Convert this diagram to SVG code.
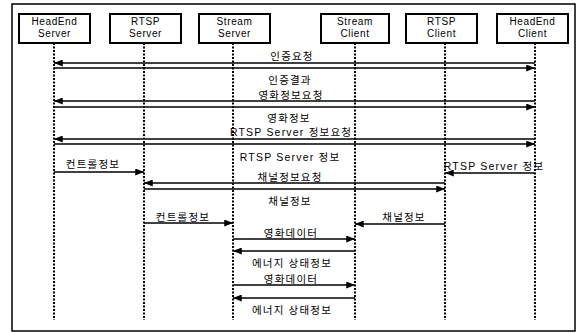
<svg xmlns="http://www.w3.org/2000/svg" width="581" height="333" viewBox="0 0 581 333">
<defs>
<marker id="ah" viewBox="0 0 10 8" refX="10" refY="4" markerWidth="9" markerHeight="7" orient="auto" markerUnits="userSpaceOnUse"><path d="M0,0 L10,4 L0,8 z" fill="#000"/></marker>
<style>
.box{fill:#fff;stroke:#000;stroke-width:2}
.bt{font-family:"Liberation Sans",Arial,sans-serif;font-size:10px;text-anchor:middle;fill:#000;letter-spacing:0.6px}
.life{stroke:#000;stroke-width:2;stroke-dasharray:2 1.5;fill:none}
.msg{stroke:#000;stroke-width:1.6;fill:none;marker-end:url(#ah)}
.lb{font-family:"Liberation Sans","Noto Sans CJK KR",sans-serif;font-size:10.5px;text-anchor:middle;fill:#000;letter-spacing:1.2px}
</style>
</defs>
<rect x="0" y="0" width="581" height="333" fill="#fff"/>
<rect x="12" y="4" width="563" height="327" fill="none" stroke="#000" stroke-width="1.5"/>
<g id="lifelines">
<line class="life" x1="54" y1="43" x2="54" y2="320"/>
<line class="life" x1="144" y1="43" x2="144" y2="320"/>
<line class="life" x1="233" y1="43" x2="233" y2="320"/>
<line class="life" x1="355" y1="43" x2="355" y2="320"/>
<line class="life" x1="445" y1="43" x2="445" y2="320"/>
<line class="life" x1="535" y1="43" x2="535" y2="320"/>
</g>
<g id="n-headend-server"><rect class="box" x="19" y="14" width="71" height="29"/><text class="bt" x="54.5" y="25">HeadEnd</text><text class="bt" x="54.5" y="37">Server</text></g>
<g id="n-rtsp-server"><rect class="box" x="110" y="14" width="71" height="29"/><text class="bt" x="145.5" y="25">RTSP</text><text class="bt" x="145.5" y="37">Server</text></g>
<g id="n-stream-server"><rect class="box" x="199" y="14" width="71" height="29"/><text class="bt" x="234.5" y="25">Stream</text><text class="bt" x="234.5" y="37">Server</text></g>
<g id="n-stream-client"><rect class="box" x="321" y="14" width="68" height="29"/><text class="bt" x="355" y="25">Stream</text><text class="bt" x="355" y="37">Client</text></g>
<g id="n-rtsp-client"><rect class="box" x="406" y="14" width="71" height="29"/><text class="bt" x="441.5" y="25">RTSP</text><text class="bt" x="441.5" y="37">Client</text></g>
<g id="n-headend-client"><rect class="box" x="497" y="14" width="71" height="29"/><text class="bt" x="532.5" y="25">HeadEnd</text><text class="bt" x="532.5" y="37">Client</text></g>
<g id="connectors">
<line class="msg" x1="535" y1="63" x2="54" y2="63"/>
<line class="msg" x1="54" y1="68" x2="535" y2="68"/>
<line class="msg" x1="535" y1="101" x2="54" y2="101"/>
<line class="msg" x1="54" y1="107" x2="535" y2="107"/>
<line class="msg" x1="535" y1="139" x2="54" y2="139"/>
<line class="msg" x1="54" y1="144" x2="535" y2="144"/>
<line class="msg" x1="54" y1="172" x2="144" y2="172"/>
<line class="msg" x1="535" y1="173" x2="445" y2="173"/>
<line class="msg" x1="445" y1="183" x2="144" y2="183"/>
<line class="msg" x1="144" y1="189" x2="445" y2="189"/>
<line class="msg" x1="144" y1="223" x2="233" y2="223"/>
<line class="msg" x1="445" y1="224" x2="355" y2="224"/>
<line class="msg" x1="233" y1="239" x2="355" y2="239"/>
<line class="msg" x1="355" y1="251" x2="233" y2="251"/>
<line class="msg" x1="233" y1="285" x2="355" y2="285"/>
<line class="msg" x1="355" y1="298" x2="233" y2="298"/>
</g>
<g id="labels">
<text class="lb" x="292" y="60">인증요청</text>
<text class="lb" x="290" y="84">인증결과</text>
<text class="lb" x="291" y="99">영화정보요청</text>
<text class="lb" x="289" y="122">영화정보</text>
<text class="lb" x="291" y="136">RTSP Server 정보요청</text>
<text class="lb" x="290" y="161">RTSP Server 정보</text>
<text class="lb" x="93" y="168">컨트롤정보</text>
<text class="lb" x="494" y="170">RTSP Server 정보</text>
<text class="lb" x="290" y="181">채널정보요청</text>
<text class="lb" x="290" y="205">채널정보</text>
<text class="lb" x="183" y="221">컨트롤정보</text>
<text class="lb" x="404" y="221">채널정보</text>
<text class="lb" x="291" y="237">영화데이터</text>
<text class="lb" x="292" y="267">에너지 상태정보</text>
<text class="lb" x="291" y="283">영화데이터</text>
<text class="lb" x="292" y="314">에너지 상태정보</text>
</g>
</svg>
